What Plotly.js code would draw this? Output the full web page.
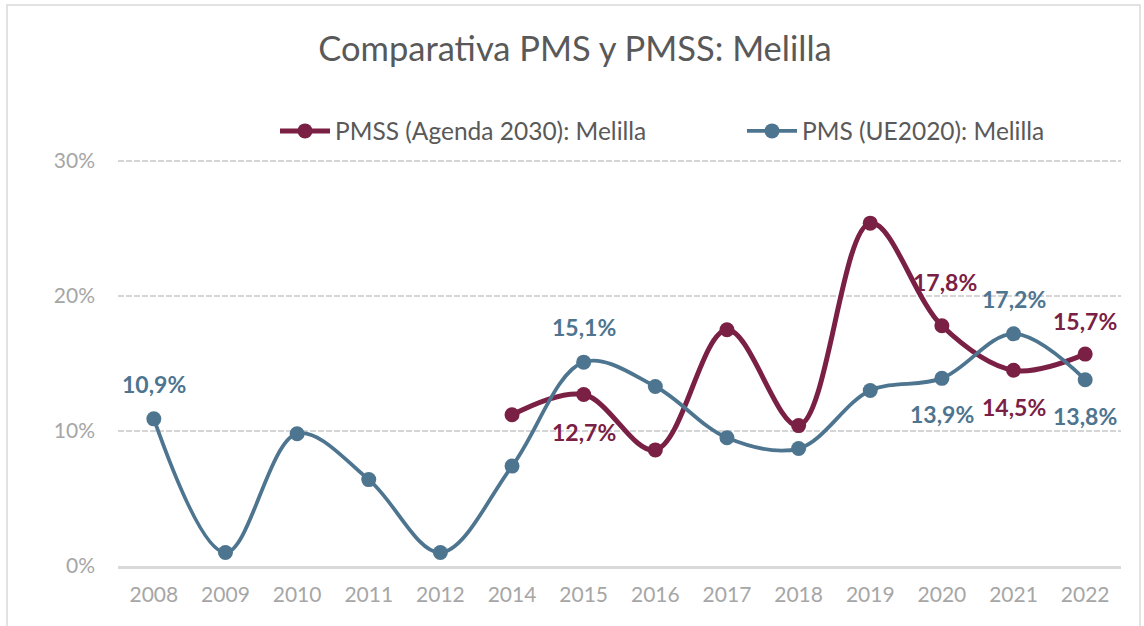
<!DOCTYPE html>
<html><head><meta charset="utf-8">
<script src="https://cdn.plot.ly/plotly-3.0.1.min.js"></script>
<style>html,body{margin:0;padding:0;background:#fff}#chart{width:1144px;height:626px}</style>
</head><body><div id="chart"></div>
<script>
const years = ['2008','2009','2010','2011','2012','2014','2015','2016','2017','2018','2019','2020','2021','2022'];
const pmsName = 'PMS (UE2020): Melilla';
const pmssName = 'PMSS (Agenda 2030): Melilla';
const pmsValues = [10.9, 1.0, 9.8, 6.4, 1.0, 7.4, 15.1, 13.3, 9.5, 8.7, 13.0, 13.9, 17.2, 13.8];
const pmssValues = [null, null, null, null, null, 11.2, 12.7, 8.6, 17.5, 10.4, 25.4, 17.8, 14.5, 15.7];
const pmsLabelYears = ['2008','2015','2020','2021','2022'];
const pmsLabelAbove = [true, true, false, true, false];
const pmssLabelYears = ['2015','2020','2021','2022'];
const pmssLabelAbove = [false, true, false, true];

const pmsColor = '#4E7590';
const pmssColor = '#7B2045';
const FONT = 'Lato, sans-serif';
const fmt = v => v.toFixed(1).replace('.', ',') + '%';

const traces = [
  {x: years, y: pmssValues, name: pmssName, type: 'scatter', mode: 'lines+markers', legend: 'legend',
   line: {color: pmssColor, width: 5, shape: 'spline', smoothing: 1}, marker: {color: pmssColor, size: 15}},
  {x: years, y: pmsValues, name: pmsName, type: 'scatter', mode: 'lines+markers', legend: 'legend2',
   line: {color: pmsColor, width: 3.8, shape: 'spline', smoothing: 1}, marker: {color: pmsColor, size: 15}}
];

const annotations = [];
pmsLabelYears.forEach((yr, i) => {
  const idx = years.indexOf(yr);
  const v = pmsValues[idx];
  annotations.push({x: idx, y: v, xref: 'x', yref: 'y', text: '<b>' + fmt(v) + '</b>', showarrow: false,
    yshift: pmsLabelAbove[i] ? 35 : -36, font: {family: FONT, size: 23, color: pmsColor}});
});
pmssLabelYears.forEach((yr, i) => {
  const idx = years.indexOf(yr);
  const v = pmssValues[idx];
  annotations.push({x: idx, y: v, xref: 'x', yref: 'y', text: '<b>' + fmt(v) + '</b>', showarrow: false,
    yshift: pmssLabelAbove[i] ? (yr === '2020' ? 44 : 33) : -37, xshift: yr === '2020' ? 3 : 0,
    font: {family: FONT, size: 23, color: pmssColor}});
});

const legendCommon = {orientation: 'h', xanchor: 'left', yref: 'container', yanchor: 'middle', y: 1 - 131/626,
  font: {family: FONT, size: 24.5, color: '#595959'}, bgcolor: 'rgba(0,0,0,0)', borderwidth: 0, itemwidth: 50};

const layout = {
  width: 1144, height: 626,
  margin: {l: 118, r: 23, t: 157, b: 60},
  paper_bgcolor: '#fff', plot_bgcolor: '#fff',
  font: {family: FONT, color: '#595959'},
  title: {text: 'Comparativa PMS y PMSS: Melilla', x: 575/1144, xref: 'container', xanchor: 'center',
          y: 1 - 49/626, yref: 'container', yanchor: 'middle',
          font: {family: FONT, size: 34.5, color: '#595959'}},
  showlegend: true,
  legend: Object.assign({}, legendCommon, {x: (283 - 118 - 8) / 1003}),
  legend2: Object.assign({}, legendCommon, {x: (750 - 118 - 8) / 1003}),
  xaxis: {type: 'category', categoryarray: years, categoryorder: 'array', showgrid: false,
          showline: true, linecolor: '#D9D9D9', linewidth: 2.5, ticks: '', zeroline: false,
          tickfont: {family: FONT, size: 21, color: '#A6A6A6'}, ticklabelstandoff: 8,
          range: [-0.5, years.length - 0.5]},
  yaxis: {range: [0, 30.3], tickvals: [0, 10, 20, 30], ticktext: ['0%', '10%', '20%', '30%'],
          showgrid: true, gridcolor: '#D5D5D5', griddash: '6px,2px', gridwidth: 1.5, zeroline: false, showline: false,
          tickfont: {family: FONT, size: 21, color: '#A6A6A6'}, ticklabelstandoff: 22},
  annotations: annotations,
  shapes: [{type: 'rect', xref: 'paper', yref: 'paper', x0: (7-118)/1003, x1: (1140-118)/1003,
            y0: (566-640)/409, y1: (566-5)/409, line: {color: '#D9D9D9', width: 1.5}, layer: 'below'}]
};
Plotly.newPlot('chart', traces, layout, {displayModeBar: false, staticPlot: true});
</script></body></html>
